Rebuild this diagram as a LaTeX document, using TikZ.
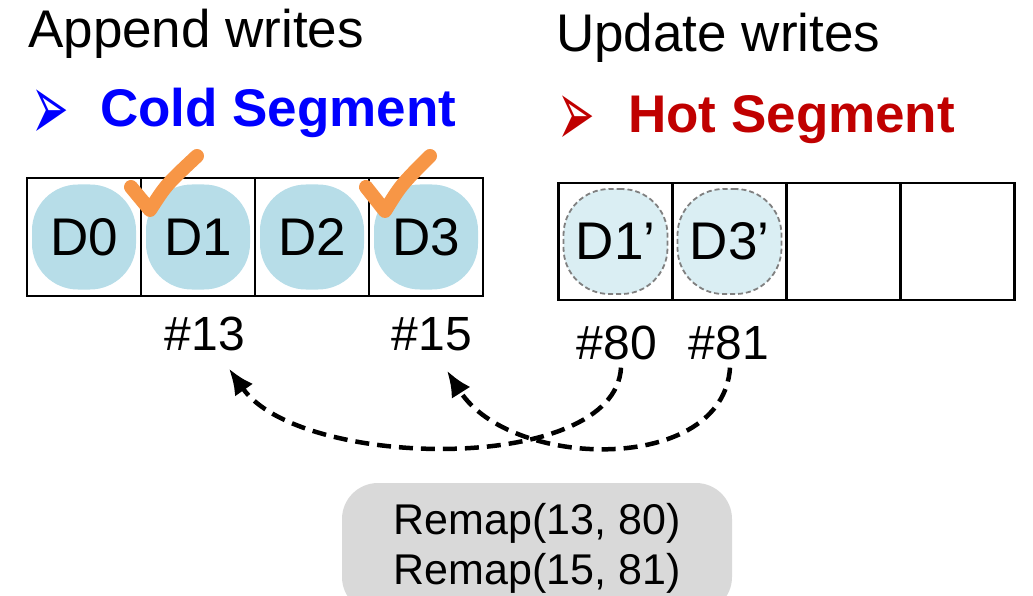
\documentclass[tikz,border=0pt]{standalone}
\usepackage{fontspec}
\setmainfont{Liberation Sans}
\newfontfamily\bulletfont{DejaVu Sans}
\usetikzlibrary{arrows.meta,positioning}

\definecolor{coldblue}{RGB}{0,0,255}
\definecolor{hotred}{RGB}{192,0,0}
\definecolor{blobblue}{RGB}{183,221,232}
\definecolor{blobpale}{RGB}{218,238,243}
\definecolor{tickorange}{RGB}{247,150,70}
\definecolor{remapgray}{RGB}{217,217,217}

\newcommand{\segbullet}{\scalebox{0.8}[1.7]{\bulletfont ➢}}

\begin{document}
\begin{tikzpicture}[
    x=1pt, y=-1pt,
    font=\fontsize{53}{60}\selectfont,
    title/.style={anchor=base west, inner sep=0pt},
    bullet/.style={anchor=base west, inner sep=0pt, font=\fontsize{56}{60}\selectfont},
    segname/.style={anchor=base west, inner sep=0pt, font=\fontsize{53}{60}\selectfont\bfseries},
    cell/.style={
        draw,
        line width=2.2pt,
        minimum width=114pt,
        minimum height=118pt,
        inner sep=0pt,
        outer sep=0pt
    },
    blob/.style={
        fill=blobblue,
        rounded corners=46pt,
        minimum width=104pt,
        minimum height=105pt,
        inner sep=0pt
    },
    newblob/.style={blob, fill=blobpale, draw=gray, dash pattern=on 5pt off 3pt, line width=1.8pt},
    slot/.style={anchor=base, inner sep=0pt, font=\fontsize{48}{56}\selectfont},
    tick/.style={draw=tickorange, line width=14pt, line cap=round, line join=round},
    remap/.style={dash pattern=on 14pt off 8pt, line width=4.5pt,
        -{Latex[length=26pt,width=22pt]}},
    cmdbox/.style={
        fill=remapgray,
        rounded corners=36pt,
        minimum width=390pt,
        minimum height=130pt,
        align=center,
        font=\fontsize{43}{50}\selectfont
    }
]
\useasboundingbox (0,0) rectangle (1033,596);

% headings
\node[title] (append) at (28,48) {Append writes};
\node[title] (update) at (556,52) {Update writes};
\node[bullet, text=coldblue] (coldmark) at (31,141) {\segbullet};
\node[segname, text=coldblue] (cold) at (100,127) {Cold Segment};
\node[bullet, text=hotred] (hotmark) at (557,147) {\segbullet};
\node[segname, text=hotred] (hot) at (628,133) {Hot Segment};

% cold segment
\node[cell] (c0) at (84,237) {};
\node[cell, right=0pt of c0] (c1) {};
\node[cell, right=0pt of c1] (c2) {};
\node[cell, right=0pt of c2] (c3) {};
\node[blob] (d0) at (c0) {D0};
\node[blob] (d1) at (c1) {D1};
\node[blob] (d2) at (c2) {D2};
\node[blob] (d3) at (c3) {D3};

% hot segment
\node[cell, minimum height=117pt] (h0) at (615.5,241.5) {};
\node[cell, minimum height=117pt, right=0pt of h0] (h1) {};
\node[cell, minimum height=117pt, right=0pt of h1] (h2) {};
\node[cell, minimum height=117pt, right=0pt of h2] (h3) {};
\node[newblob] (d1new) at (h0) {D1’};
\node[newblob] (d3new) at (h1) {D3’};

% invalidated blocks
\draw[tick] (131,187) -- (150,210) .. controls (166,185) .. (197,156);
\draw[tick] (366,187) -- (385,211) .. controls (401,185) .. (430,156);

% block numbers
\node[slot] (n13) at (205,350) {\#13};
\node[slot] (n15) at (432,350) {\#15};
\node[slot] (n80) at (617,359) {\#80};
\node[slot] (n81) at (729,359) {\#81};

\draw[remap] ([xshift=4pt,yshift=-8pt]n80.south) .. controls (615,475) and (300,470) .. ([xshift=24pt,yshift=-18pt]n13.south);
\draw[remap] ([xshift=1pt,yshift=-8pt]n81.south) .. controls (723,475) and (510,470) .. ([xshift=15pt,yshift=-20pt]n15.south);

\node[cmdbox] (cmd) at (537,548) {Remap(13, 80)\\Remap(15, 81)};
\end{tikzpicture}
\end{document}
